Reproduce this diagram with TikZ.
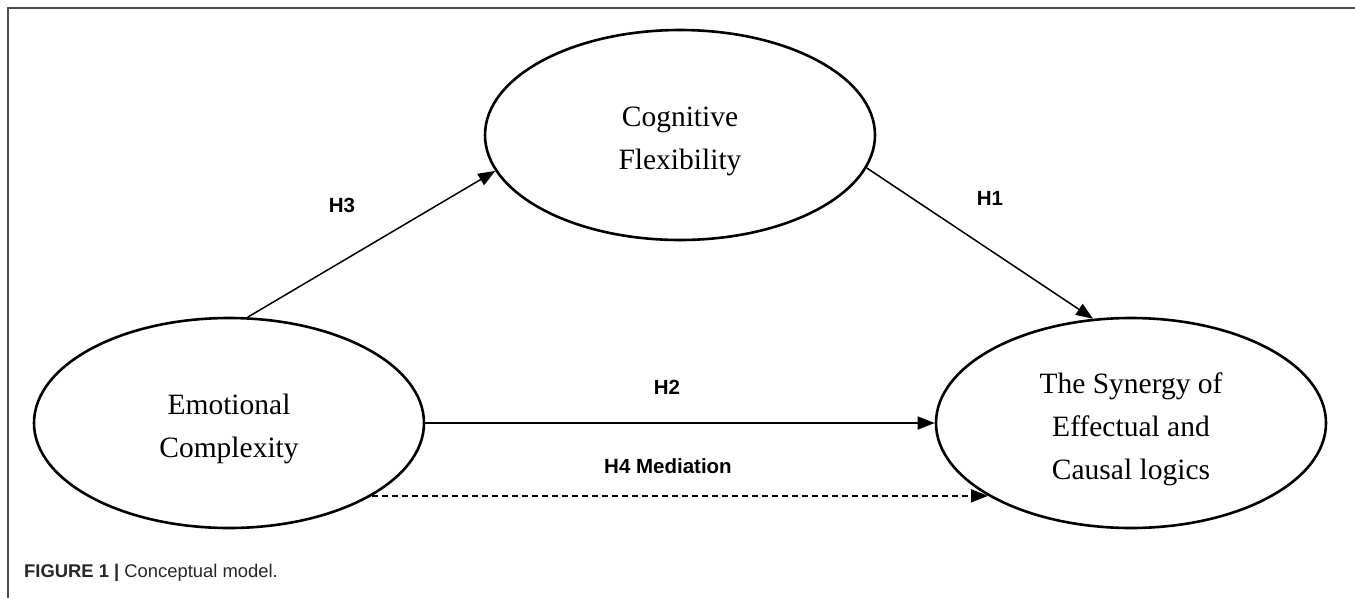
\documentclass[tikz,border=0pt]{standalone}
\usepackage{fontspec}
\setmainfont{Liberation Serif}
\newfontfamily\labelfont{Liberation Sans}
\usetikzlibrary{shapes.geometric,arrows.meta}
\begin{document}
\begin{tikzpicture}[x=1pt,y=-1pt,
  construct/.style={ellipse, draw, line width=2.6pt, minimum width=390pt, minimum height=210pt,
    inner sep=0pt},
  ctext/.style={align=center, inner sep=0pt, yshift=-6pt, font=\fontsize{29.5}{43}\selectfont},
  conn/.style={line width=1.5pt, -{Triangle[length=17pt,width=13pt]}},
  dashconn/.style={conn, dash pattern=on 6pt off 4pt},
  hlabel/.style={font=\labelfont\bfseries\fontsize{20.5}{24}\selectfont},
  frame/.style={draw=black!70, line width=1.5pt}
]
\useasboundingbox (0,0) rectangle (1355,598);
\draw[frame] (8,598) -- (8,8) -- (1355,8);

\node[construct] (CF) at (680,135) {};
\node[construct] (EC) at (229,423) {};
\node[construct] (SY) at (1131,423) {};
\node[ctext] (CFt) at (CF) {Cognitive\\Flexibility};
\node[ctext] (ECt) at (EC) {Emotional\\Complexity};
\node[ctext] (SYt) at (SY) {The Synergy of\\Effectual and\\Causal logics};

\draw[conn] (EC.80.5) -- (CF.191);
\draw[conn] (CF.-10) -- (SY.110);
\draw[conn] (EC.east) -- (SY.west);
\draw[dashconn] (EC.-27.9) -- (SY.207.9);

\node[hlabel] (h3) at (342,205) {H3};
\node[hlabel] (h1) at (990,198) {H1};
\node[hlabel] (h2) at (667,387) {H2};
\node[hlabel] (h4) at (668,466) {H4 Mediation};

\node[anchor=west, inner sep=0pt, text=black!85, font=\labelfont\fontsize{18.4}{22}\selectfont] (cap) at (24,573)
  {\textbf{FIGURE 1 |} Conceptual model.};
\end{tikzpicture}
\end{document}
